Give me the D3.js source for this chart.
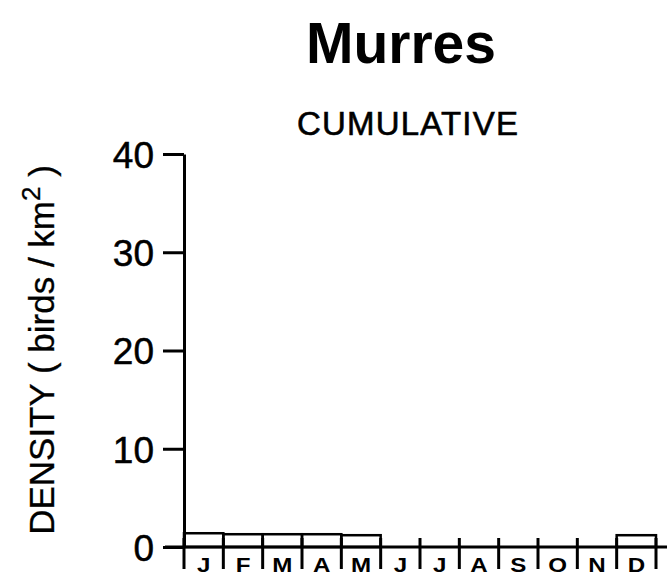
<!DOCTYPE html>
<html>
<head>
<meta charset="utf-8">
<script src="https://cdn.jsdelivr.net/npm/d3@7"></script>
<style>
  html, body { margin: 0; padding: 0; background: #fff; overflow: hidden; }
  svg { display: block; font-family: "Liberation Sans", Arial, Helvetica, sans-serif; }
</style>
</head>
<body>
<svg id="chart" width="667" height="578"></svg>
<script>
// Monthly cumulative murre density
const months = ["J", "F", "M", "A", "M", "J", "J", "A", "S", "O", "N", "D"];
const density = [1.4, 1.3, 1.3, 1.3, 1.2, 0, 0, 0, 0, 0, 0, 1.2];
const yTicks = [0, 10, 20, 30, 40];

const svg = d3.select("#chart");
const ink = "#000";

const x = d3.scaleBand()
  .domain(d3.range(months.length))
  .range([184, 656])
  .padding(0);

const y = d3.scaleLinear()
  .domain([0, 40])
  .range([547, 154]);

// Titles
svg.append("text")
  .attr("x", 401).attr("y", 63)
  .attr("text-anchor", "middle")
  .attr("font-size", 57).attr("font-weight", "bold")
  .attr("fill", ink)
  .text("Murres");

svg.append("text")
  .attr("x", 408).attr("y", 135)
  .attr("text-anchor", "middle")
  .attr("font-size", 33)
  .attr("letter-spacing", 1.2)
  .attr("fill", ink).attr("stroke", ink).attr("stroke-width", 0.6)
  .text("CUMULATIVE");

// Y axis title
const yTitle = svg.append("text")
  .attr("transform", "translate(54,350) rotate(-90)")
  .attr("text-anchor", "middle")
  .attr("font-size", 35)
  .attr("fill", ink).attr("stroke", ink).attr("stroke-width", 0.3);
yTitle.append("tspan").text("DENSITY ( birds / km");
yTitle.append("tspan").attr("dy", -14).attr("font-size", 26).text("2");
yTitle.append("tspan").attr("dy", 14).text(" )");

// Bars (outlined)
svg.append("g")
  .selectAll("rect")
  .data(density.map((v, i) => ({ v, i })).filter(d => d.v > 0))
  .join("rect")
  .attr("x", d => x(d.i))
  .attr("y", d => y(d.v))
  .attr("width", x.bandwidth())
  .attr("height", d => y(0) - y(d.v))
  .attr("fill", "none")
  .attr("stroke", ink)
  .attr("stroke-width", 2.5);

// Y axis
const yAxis = svg.append("g")
  .attr("transform", "translate(184,0)")
  .call(d3.axisLeft(y).tickValues(yTicks).tickSize(21).tickSizeOuter(0).tickPadding(9));
yAxis.select(".domain").attr("stroke", ink).attr("stroke-width", 3);
yAxis.selectAll(".tick line").attr("stroke", ink).attr("stroke-width", 3);
yAxis.selectAll(".tick text")
  .attr("font-family", "\"Liberation Sans\", Arial, sans-serif")
  .attr("font-size", 37)
  .attr("fill", ink).attr("stroke", ink).attr("stroke-width", 0.5)
  .attr("dy", "0.36em");

// Baseline
svg.append("line")
  .attr("x1", 165).attr("x2", 667)
  .attr("y1", y(0)).attr("y2", y(0))
  .attr("stroke", ink).attr("stroke-width", 3);

// Month separators
const edges = d3.range(months.length + 1).map(i => i < months.length ? x(i) : x(i - 1) + x.bandwidth());
svg.append("g")
  .selectAll("line")
  .data(edges)
  .join("line")
  .attr("x1", d => d).attr("x2", d => d)
  .attr("y1", y(0) - 9).attr("y2", y(0) + 22)
  .attr("stroke", ink).attr("stroke-width", 3);

// Month labels (wide, heavy capitals)
svg.append("g")
  .selectAll("text")
  .data(months)
  .join("text")
  .attr("transform", (d, i) => `translate(${x(i) + x.bandwidth() / 2},572) scale(1.15,1)`)
  .attr("text-anchor", "middle")
  .attr("font-size", 21).attr("font-weight", "bold")
  .attr("fill", ink)
  .text(d => d);
</script>
</body>
</html>
